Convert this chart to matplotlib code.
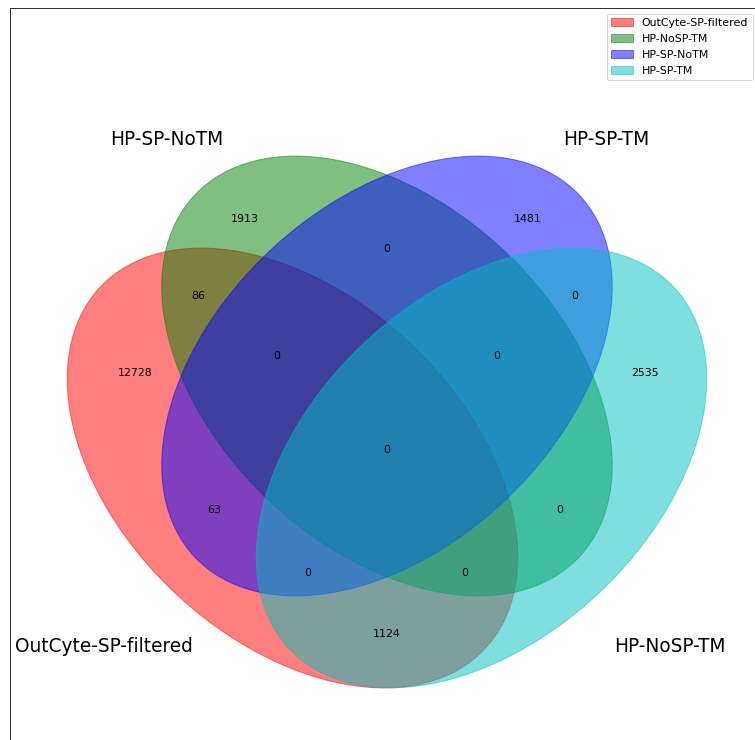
import matplotlib
matplotlib.use("Agg")
import matplotlib.pyplot as plt
from matplotlib.patches import Ellipse, Patch

# Set names as drawn beside the diagram, and as listed in the legend
set_labels = ["OutCyte-SP-filtered", "HP-SP-NoTM", "HP-SP-TM", "HP-NoSP-TM"]
legend_labels = ["OutCyte-SP-filtered", "HP-NoSP-TM", "HP-SP-NoTM", "HP-SP-TM"]
set_colors = [(1.0, 0.0, 0.0), (0.0, 0.5, 0.0), (0.0, 0.0, 1.0), (0.0, 0.75, 0.75)]

# Region counts keyed by membership code (red, green, blue, cyan)
region_codes = ["1000", "0100", "0010", "0001", "1100", "0110", "0011",
                "1010", "0101", "1001", "1110", "0111", "1011", "1101", "1111"]
region_counts = [12728, 1913, 1481, 2535, 86, 0, 0,
                 63, 0, 1124, 0, 0, 0, 0, 0]

# Layout (pixel-like units, y up)
H = 740
ellipse_centers = [(292.5, H - 468), (387.0, H - 376), (387.0, H - 376), (481.5, H - 468)]
ellipse_angles = [136.7, 136.7, 43.3, 43.3]
ellipse_w, ellipse_h = 528, 343

label_pos = {
    "1000": (135, 373), "0100": (245, 219), "0010": (528, 219), "0001": (645, 373),
    "1100": (198, 296), "0110": (387, 249), "0011": (575, 296),
    "1110": (277, 356), "0111": (497, 356), "1111": (387, 450),
    "1010": (214, 510), "0101": (560, 510),
    "1011": (308, 573), "1101": (465, 573), "1001": (387, 634),
}
name_pos = [(15, 647, "left"), (110, 140, "left"), (563, 140, "left"), (614, 647, "left")]

fig = plt.figure(figsize=(755 / 72, 740 / 72), dpi=72)
ax = fig.add_axes([10 / 755, (740 - 758) / 740, 748 / 755, 750 / 740])
ax.set_xlim(10, 758)
ax.set_ylim(H - 758, H - 8)
ax.set_xticks([])
ax.set_yticks([])
for s in ax.spines.values():
    s.set_color("#333333")
    s.set_linewidth(1.0)

for c, ang, col in zip(ellipse_centers, ellipse_angles, set_colors):
    e = Ellipse(xy=c, width=ellipse_w, height=ellipse_h, angle=ang,
                facecolor=col, edgecolor=col, linewidth=1, alpha=0.5)
    ax.add_patch(e)

for code, cnt in zip(region_codes, region_counts):
    x, y = label_pos[code]
    ax.text(x, H - y, str(cnt), ha="center", va="center", fontsize=11, color="black")

for name, (x, y, ha) in zip(set_labels, name_pos):
    ax.text(x, H - y, name, ha=ha, va="center", fontsize=18.5, color="black")

handles = [Patch(facecolor=c, edgecolor=c, alpha=0.5) for c in set_colors]
ax.legend(handles, legend_labels, loc="upper right", fontsize=11, fancybox=True,
          labelspacing=0.55)

fig.savefig("out.png", dpi=72)
